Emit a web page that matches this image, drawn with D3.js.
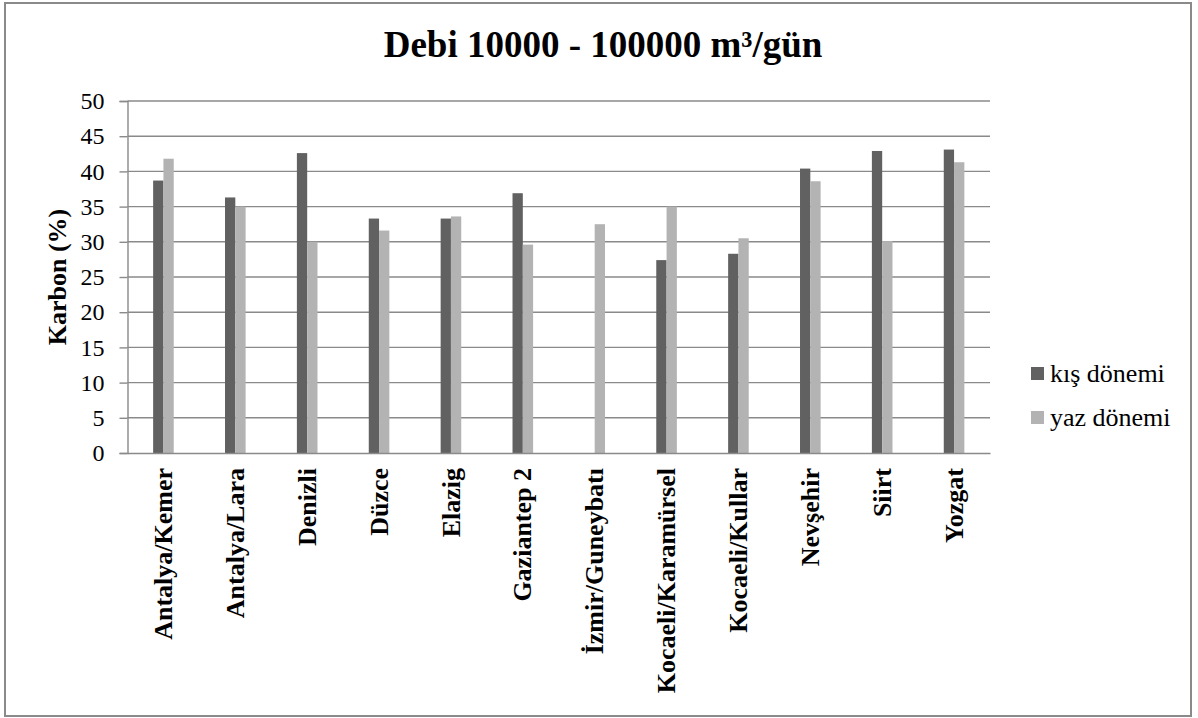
<!DOCTYPE html>
<html>
<head>
<meta charset="utf-8">
<script src="https://cdn.jsdelivr.net/npm/d3@7"></script>
</head>
<body style="margin:0">
<svg id="chart" width="1198" height="718"></svg>
<script>
// Carbon content by treatment plant, winter vs summer
const categories = ["Antalya/Kemer", "Antalya/Lara", "Denizli", "Düzce", "Elazig", "Gaziantep 2",
  "İzmir/Guneybatı", "Kocaeli/Karamürsel", "Kocaeli/Kullar", "Nevşehir", "Siirt", "Yozgat"];
const seriesNames = ["kış dönemi", "yaz dönemi"];
const kisValues = [38.7, 36.3, 42.6, 33.3, 33.3, 36.9, 0, 27.4, 28.3, 40.4, 42.9, 43.1];
const yazValues = [41.8, 35.0, 30.0, 31.6, 33.6, 29.6, 32.5, 35.0, 30.5, 38.6, 30.1, 41.3];
const yTicks = [0, 5, 10, 15, 20, 25, 30, 35, 40, 45, 50];
const titleText = "Debi 10000 - 100000 m³/gün";
const yLabel = "Karbon (%)";

const FONT = "Liberation Serif";
const colors = { "kış dönemi": "#616161", "yaz dönemi": "#b3b3b3" };
const gridColor = "#8a8a8a";

const svg = d3.select("#chart");

// outer frame
svg.append("rect")
  .attr("x", 5).attr("y", 3).attr("width", 1186).attr("height", 713)
  .attr("fill", "#fff").attr("stroke", "#8a8a8a").attr("stroke-width", 2);

const plot = { left: 127.5, right: 990, top: 101, bottom: 453 };

const y = d3.scaleLinear().domain([0, 50]).range([plot.bottom, plot.top]);
const x0 = d3.scaleBand().domain(categories).range([plot.left, plot.right]).padding(0);
const x1 = d3.scaleBand().domain(seriesNames).range([0, x0.bandwidth()])
  .paddingInner(0).paddingOuter(2.49);

// gridlines
svg.append("g").selectAll("line").data(yTicks.filter(d => d > 0)).join("line")
  .attr("x1", plot.left).attr("x2", plot.right)
  .attr("y1", d => y(d)).attr("y2", d => y(d))
  .attr("stroke", gridColor).attr("stroke-width", 1.4);

// y axis
const yAxis = d3.axisLeft(y).tickValues(yTicks).tickSize(8).tickPadding(15);
const yg = svg.append("g").attr("transform", `translate(${plot.left},0)`).call(yAxis)
  .attr("font-family", null).attr("font-size", null);
yg.select(".domain").attr("stroke", gridColor).attr("stroke-width", 1.4);
yg.selectAll(".tick line").attr("stroke", gridColor).attr("stroke-width", 1.4);
yg.selectAll(".tick text")
  .style("font-family", FONT).style("font-size", "24px").style("font-weight", "400")
  .attr("fill", "#000");

// bars
const rows = categories.map((c, i) => ({ cat: c, values: [
  { key: seriesNames[0], v: kisValues[i] },
  { key: seriesNames[1], v: yazValues[i] }
]}));
const groups = svg.append("g").selectAll("g").data(rows).join("g")
  .attr("transform", d => `translate(${x0(d.cat)},0)`);
groups.selectAll("rect").data(d => d.values).join("rect")
  .attr("x", d => x1(d.key))
  .attr("width", x1.bandwidth())
  .attr("y", d => y(d.v))
  .attr("height", d => y(0) - y(d.v))
  .attr("fill", d => colors[d.key]);

// x axis line and rotated category labels
const xAxis = d3.axisBottom(x0).tickSize(0).tickPadding(0);
const xg = svg.append("g").attr("transform", `translate(0,${plot.bottom})`).call(xAxis)
  .attr("font-family", null).attr("font-size", null);
xg.select(".domain").attr("stroke", gridColor).attr("stroke-width", 1.4);
xg.selectAll(".tick text")
  .style("font-family", FONT).style("font-size", "26px").style("font-weight", "700")
  .attr("fill", "#000")
  .attr("text-anchor", "end")
  .attr("transform", "rotate(-90)")
  .attr("x", -15).attr("y", 0).attr("dy", "0.33em");

// title
svg.append("text")
  .attr("x", 603).attr("y", 57)
  .attr("text-anchor", "middle")
  .style("font-family", FONT).style("font-size", "37px").style("font-weight", "700")
  .text(titleText);

// y label
svg.append("text")
  .attr("transform", `translate(66,277) rotate(-90)`)
  .attr("text-anchor", "middle")
  .style("font-family", FONT).style("font-size", "26px").style("font-weight", "700")
  .text(yLabel);

// legend
const legend = svg.append("g")
  .selectAll("g").data(seriesNames).join("g")
  .attr("transform", (d, i) => `translate(1031,${367 + i * 44})`);
legend.append("rect").attr("width", 13).attr("height", 13).attr("fill", d => colors[d]);
legend.append("text").attr("x", 19).attr("y", 15)
  .style("font-family", FONT).style("font-size", "26px").style("font-weight", "400")
  .text(d => d);
</script>
</body>
</html>
